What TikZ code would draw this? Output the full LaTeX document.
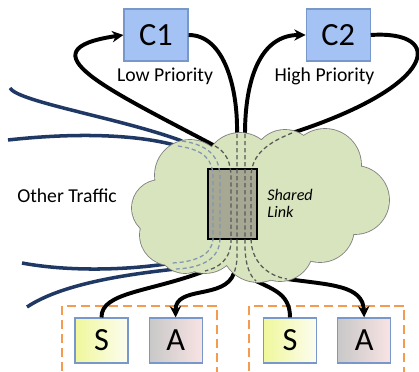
\documentclass[tikz,border=0pt]{standalone}
\usepackage{fontspec}
\setmainfont{Carlito}
\usetikzlibrary{arrows.meta,positioning}

\definecolor{boxblue}{RGB}{164,194,244}
\definecolor{boxborder}{RGB}{120,152,204}
\definecolor{cloudgreen}{RGB}{215,228,189}
\definecolor{cloudedge}{RGB}{128,128,128}
\definecolor{linkgray}{RGB}{166,168,148}
\definecolor{navy}{RGB}{31,56,100}
\definecolor{innergray}{RGB}{89,89,89}
\definecolor{innerblue}{RGB}{132,151,176}
\definecolor{grouporange}{RGB}{245,155,80}
\definecolor{sendleft}{RGB}{240,247,155}
\definecolor{sendright}{RGB}{252,253,240}
\definecolor{ackleft}{RGB}{200,200,200}
\definecolor{ackright}{RGB}{249,227,227}

\def\cloudlist{160/208/28,190/175/35,240/168/35,285/162/32,325/165/36,355/200/34,320/228/34,280/248/33,258/245/37,205/240/33,185/245/28,170/235/30,270/205/55,200/210/30}

\begin{document}
\begin{tikzpicture}[x=0.025cm,y=-0.025cm,
      >={Stealth[length=8pt,width=8pt,inset=2.5pt]},
      host node/.style={draw=boxborder,line width=0.8pt,fill=boxblue,minimum width=1.6cm,minimum height=1.3cm,inner sep=0pt,font=\fontsize{23}{26}\selectfont},
      end node/.style={draw=boxborder,line width=0.8pt,minimum width=1.325cm,minimum height=1.125cm,inner sep=0pt,font=\fontsize{23}{26}\selectfont},
      send node/.style={end node,left color=sendleft,right color=sendright},
      ack node/.style={end node,left color=ackleft,right color=ackright},
      link node/.style={draw,line width=0.9pt,fill=linkgray,minimum width=1.225cm,minimum height=1.75cm,inner sep=0pt},
      flow/.style={line width=2.8pt},
      other/.style={line width=2.5pt,draw=navy},
      inner flow/.style={line width=0.9pt,draw=innergray,dash pattern=on 3pt off 2pt},
      inner other/.style={inner flow,draw=innerblue},
      group box/.style={draw=grouporange,line width=1.9pt,dash pattern=on 6.5pt off 3.5pt},
      label text/.style={font=\fontsize{14}{16}\selectfont}]
      \useasboundingbox (0,0) rectangle (419,372);
      \clip (0,0) rectangle (419,372);

      \node[host node] (C1) at (156,35) {C1};
      \node[host node] (C2) [right=2.925cm of C1] {C2};
      \node[send node] (S1) at (101.5,340.5) {S};
      \node[ack node] (A1) [right=0.5cm of S1] {A};
      \node[send node] (S2) at (290,340.5) {S};
      \node[ack node] (A2) [right=0.5cm of S2] {A};

      % host groups
      \draw[group box] (62,306) rectangle (217,390);
      \draw[group box] (249,306) rectangle (404,390);

      % where the flows meet the cloud
      \coordinate (c1in) at (215,146);
      \coordinate (c1out) at (237,134);
      \coordinate (c2in) at (245,134);
      \coordinate (c2out) at (292,133);
      \coordinate (s1out) at (205,271);
      \coordinate (a1in) at (234,273);
      \coordinate (s2out) at (256,281);
      \coordinate (a2in) at (287,279);
      \coordinate (oa) at (178,146);
      \coordinate (ob) at (182,141);
      \coordinate (oc) at (172,263);
      \coordinate (od) at (176,269);
      \coordinate (oa start) at (8,140);
      \coordinate (ob start) at (10,88);
      \coordinate (oc start) at (22,263);
      \coordinate (od start) at (27,307);

      \draw[other] (oa start) .. controls (80,132) and (140,135) .. (oa);
      \draw[other] (ob start) .. controls (18,102) and (120,118) .. (ob);
      \draw[other] (oc start) .. controls (70,272) and (130,270) .. (oc);
      \draw[other] (od start) .. controls (60,285) and (120,275) .. (od);

      \draw[flow,->] (c1in) .. controls (110,90) and (20,50) .. (C1.west);
      \draw[flow] (C1.east) .. controls (225,35) and (238,90) .. (c1out);
      \draw[flow,->] (c2in) .. controls (245,80) and (260,35) .. (C2.west);
      \draw[flow] (C2.east) .. controls (445,30) and (440,85) .. (c2out);
      \draw[flow] (S1.north) .. controls (101,292) and (150,292) .. (s1out);
      \draw[flow,->] (a1in) .. controls (225,300) and (175,285) .. (A1.north);
      \draw[flow] (S2.north) .. controls (290,295) and (275,290) .. (s2out);
      \draw[flow,->] (a2in) .. controls (330,285) and (363,285) .. (A2.north);

      % the cloud
      \draw[cloudedge,line width=1.2pt] \foreach \cx/\cy/\r in \cloudlist {(\cx,\cy) circle [radius=\r]};
      \fill[cloudgreen] \foreach \cx/\cy/\r in \cloudlist {(\cx,\cy) circle [radius=\r]};

      \node[link node] (link) at (232.5,204) {};

      \draw[inner other] (oa) .. controls (205,150) and (213,160) .. (213,178) -- (213,238) .. controls (213,255) and (195,262) .. (oc);
      \draw[inner other] (ob) .. controls (210,145) and (220,158) .. (220,178) -- (220,238) .. controls (220,260) and (200,268) .. (od);
      \draw[inner flow] (c1in) .. controls (226,152) and (231,162) .. (231,178) -- (231,240) .. controls (231,260) and (218,268) .. (s1out);
      \draw[inner flow] (c1out) -- (237,255) .. controls (237,265) and (235,270) .. (a1in);
      \draw[inner flow] (c2in) -- (245,245) .. controls (245,265) and (250,276) .. (s2out);
      \draw[inner flow] (c2out) .. controls (262,145) and (251,158) .. (251,178) -- (251,238) .. controls (251,262) and (268,276) .. (a2in);

      \node[label text] (low) at (165,76) {Low Priority};
      \node[label text] (high) at (324.5,76) {High Priority};
      \node[label text] (traffic) at (67,196) {Other Traffic};
      \node[anchor=west,align=left,inner sep=0pt,font=\itshape\fontsize{11.5}{12}\selectfont] (shared) at (267,203) {Shared\\Link};
\end{tikzpicture}
\end{document}
